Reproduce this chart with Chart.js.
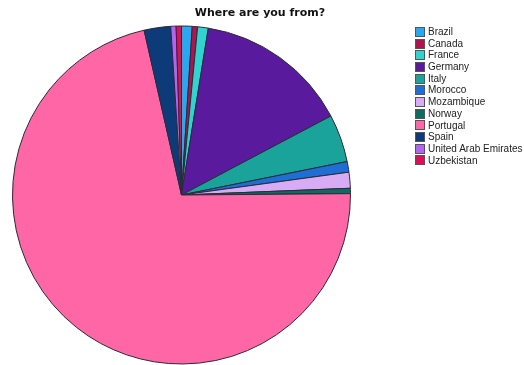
<!DOCTYPE html>
<html>
<head>
<meta charset="utf-8">
<script src="https://cdn.jsdelivr.net/npm/chart.js@4"></script>
<style>
  html,body{margin:0;padding:0;background:#fff;}
  #wrap{position:relative;width:524px;height:365px;overflow:hidden;}
  #c{position:absolute;left:0;top:0;}
  #title{position:absolute;left:180px;width:160px;top:6px;text-align:center;font:bold 11px "DejaVu Sans",sans-serif;color:#111;}
  #legend{position:absolute;left:415px;top:26px;font:10px "Liberation Sans",sans-serif;color:#222;}
  .row{height:11.7px;line-height:11.7px;white-space:nowrap;display:flex;align-items:center;}
  .sw{width:10px;height:10px;box-sizing:border-box;border:1px solid #555;margin-right:3px;flex:none;}
</style>
</head>
<body>
<div id="wrap">
  <canvas id="c" width="524" height="365"></canvas>
  <div id="title">Where are you from?</div>
  <div id="legend"></div>
</div>
<script>
const titleText = "Where are you from?";
const countries = ["Brazil","Canada","France","Germany","Italy","Morocco","Mozambique","Norway","Portugal","Spain","United Arab Emirates","Uzbekistan"];
const counts = [2,1,2,29,9,2,3,1,141,5,1,1];
const colors = ["#2aa7ee","#b3134d","#2fd3cf","#5a1a9e","#1aa39b","#1f6ed4","#d8acf4","#0f6a60","#ff66a6","#0d3b7a","#b264f3","#dc0f58"];

document.getElementById('title').textContent = titleText;
const leg = document.getElementById('legend');
countries.forEach((name,i)=>{
  const r = document.createElement('div'); r.className='row';
  const s = document.createElement('span'); s.className='sw'; s.style.background=colors[i];
  const t = document.createElement('span'); t.textContent=name;
  r.appendChild(s); r.appendChild(t); leg.appendChild(r);
});

new Chart(document.getElementById('c'), {
  type: 'pie',
  data: {
    labels: countries,
    datasets: [{ data: counts, backgroundColor: colors, borderColor: '#2a2a3a', borderWidth: 1 }]
  },
  options: {
    responsive: false,
    animation: false,
    layout: { padding: { left: 12, right: 173, top: 25, bottom: 0 } },
    plugins: { legend: { display: false }, title: { display: false }, tooltip: { enabled: false } }
  }
});
</script>
</body>
</html>
